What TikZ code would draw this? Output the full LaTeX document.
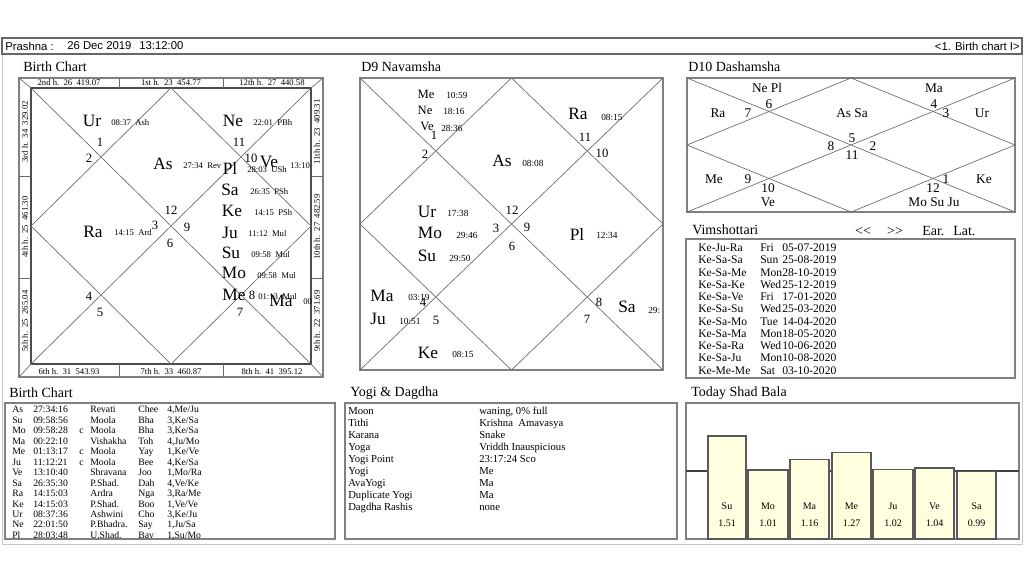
\documentclass[tikz,border=0pt]{standalone}
\usepackage{fontspec}
\setmainfont{Liberation Serif}
\newfontfamily\hdrfont{Liberation Sans}
\usetikzlibrary{positioning}

\definecolor{barfill}{HTML}{FFFFE0}
\definecolor{rimgray}{HTML}{808080}
\definecolor{linegray}{HTML}{6A6A6A}

\begin{document}
\begin{tikzpicture}[
    x=0.75pt, y=-0.75pt,
    panel/.style={draw=rimgray, line width=1.5pt},
    innerbox/.style={draw=black!70, line width=0.8pt},
    chartline/.style={draw=linegray, line width=0.5pt},
    hdr/.style={inner sep=0pt, font=\hdrfont\fontsize{8.5}{9}\selectfont},
    title/.style={anchor=west, inner sep=0pt, font=\fontsize{10.5}{12}\selectfont},
    bigpl/.style={inner sep=0pt, font=\fontsize{13}{13}\selectfont},
    midpl/.style={inner sep=0pt, font=\fontsize{9.5}{9.5}\selectfont},
    deg/.style={anchor=west, inner sep=0pt, font=\fontsize{6.5}{6.5}\selectfont},
    degnine/.style={anchor=west, inner sep=0pt, font=\fontsize{7}{7}\selectfont},
    house/.style={inner sep=0pt, font=\fontsize{9.5}{9.5}\selectfont},
    dasa/.style={inner sep=0pt, font=\fontsize{10}{10}\selectfont},
    strip/.style={inner sep=0pt, font=\fontsize{6.5}{6.5}\selectfont},
    tab/.style={anchor=north west, inner sep=0pt},
    bar/.style={draw=black!65, line width=1pt, fill=barfill},
    barlabel/.style={inner sep=0pt, align=center, font=\fontsize{7.5}{12.5}\selectfont}
]
    \fill[white] (0,0) rectangle (1024,576);
    \useasboundingbox (0,0) rectangle (1024,576);

    % Header
    \draw[draw=gray!45] (2,38) rectangle (1022,544);
    \draw[draw=black!60, line width=0.8pt] (2,38) rectangle (1022,54);
    \node[hdr, anchor=west] (prashna) at (5,46) {Prashna :};
    \node[hdr, anchor=west] (pdate) at (67,46) {26 Dec 2019};
    \node[hdr, anchor=west] (ptime) at (139,46) {13:12:00};
    \node[hdr, anchor=east] (pview) at (1020,46) {<1. Birth chart I>};

    % Birth chart
    \node[title] (bctitle) at (23,67) {Birth Chart};
    \draw[panel] (19,78) rectangle (323,377);
    \draw[innerbox] (31,88) rectangle (311,364);
    \draw[chartline] (19,78) -- (31,88) (323,78) -- (311,88) (323,377) -- (311,364) (19,377) -- (31,364);
    \draw[chartline] (119,78) -- (119,88) (223,78) -- (223,88) (119,364) -- (119,377) (223,364) -- (223,377);
    \draw[chartline] (19,176) -- (31,176) (19,278) -- (31,278) (311,176) -- (323,176) (311,278) -- (323,278);
    \draw[chartline] (31,88) -- (311,364) (311,88) -- (31,364);
    \draw[chartline] (171,88) -- (311,226) -- (171,364) -- (31,226) -- cycle;

    \node[strip] (bch2) at (69,83) {2nd h.\ \ 26\ \ 419.07};
    \node[strip] (bch1) at (171,83) {1st h.\ \ 23\ \ 454.77};
    \node[strip] (bch12) at (272,83) {12th h.\ \ 27\ \ 440.58};
    \node[strip] (bch6) at (69,372) {6th h.\ \ 31\ \ 543.93};
    \node[strip] (bch7) at (171,372) {7th h.\ \ 33\ \ 460.87};
    \node[strip] (bch8) at (272,372) {8th h.\ \ 41\ \ 395.12};
    \node[strip, rotate=90] (bch3) at (25,132) {3rd h.\ \ 34\ \ 329.02};
    \node[strip, rotate=90] (bch4) at (25,227) {4th h.\ \ 25\ \ 461.30};
    \node[strip, rotate=90] (bch5) at (25,321) {5th h.\ \ 25\ \ 265.04};
    \node[strip, rotate=90] (bch11) at (317,132) {11th h.\ \ 23\ \ 409.31};
    \node[strip, rotate=90] (bch10) at (317,227) {10th h.\ \ 27\ \ 482.59};
    \node[strip, rotate=90] (bch9) at (317,321) {9th h.\ \ 22\ \ 371.69};

    \node[bigpl] (bcur) at (92,121) {Ur};
    \node[deg] (bcurd) at (111,123) {08:37\ \ Ash};
    \node[bigpl] (bcne) at (233,121) {Ne};
    \node[deg] (bcned) at (253,123) {22:01\ \ PBh};
    \node[bigpl] (bcas) at (163,164) {As};
    \node[deg] (bcasd) at (183,166) {27:34\ \ Rev};
    \node[bigpl] (bcve) at (269,162) {Ve};
    \node[deg] (bcved) at (290,166) {13:10};
    \node[bigpl] (bcpl) at (230,168) {Pl};
    \node[deg] (bcpld) at (247,170) {28:03\ \ USh};
    \node[bigpl] (bcsa) at (230,190) {Sa};
    \node[deg] (bcsad) at (250,192) {26:35\ \ PSh};
    \node[bigpl] (bcke) at (232,211) {Ke};
    \node[deg] (bcked) at (254,213) {14:15\ \ PSh};
    \node[bigpl] (bcra) at (93,232) {Ra};
    \node[deg] (bcrad) at (114,233) {14:15\ \ Ard};
    \node[bigpl] (bcju) at (230,233) {Ju};
    \node[deg] (bcjud) at (248,234) {11:12\ \ Mul};
    \node[bigpl] (bcsu) at (231,253) {Su};
    \node[deg] (bcsud) at (251,255) {09:58\ \ Mul};
    \node[bigpl] (bcmo) at (234,273) {Mo};
    \node[deg] (bcmod) at (257,276) {09:58\ \ Mul};
    \node[bigpl] (bcme) at (234,295) {Me};
    \node[deg] (bcmed) at (258,297) {01:13\ \ Mul};
    \node[bigpl] (bcma) at (281,301) {Ma};
    \node[deg] (bcmad) at (303,302) {00};

    \node[house] (bc1) at (100,142) {1};
    \node[house] (bc2) at (89,158) {2};
    \node[house] (bc11) at (239,142) {11};
    \node[house] (bc10) at (251,158) {10};
    \node[house] (bc12) at (171,210) {12};
    \node[house] (bc3) at (155,225) {3};
    \node[house] (bc9) at (187,227) {9};
    \node[house] (bc6) at (170,243) {6};
    \node[house] (bc4) at (89,296) {4};
    \node[house] (bc5) at (100,312) {5};
    \node[house] (bc8) at (252,295) {8};
    \node[house] (bc7) at (240,312) {7};

    % D9 Navamsha
    \node[title] (nvtitle) at (361,67) {D9 Navamsha};
    \draw[panel] (360,78) rectangle (663,370);
    \draw[chartline] (360,78) -- (663,370) (663,78) -- (360,370);
    \draw[chartline] (511.5,78) -- (663,224) -- (511.5,370) -- (360,224) -- cycle;

    \node[midpl] (nvme) at (426,94) {Me};
    \node[degnine] (nvmed) at (446,95) {10:59};
    \node[midpl] (nvne) at (425,110) {Ne};
    \node[degnine] (nvned) at (443,111) {18:16};
    \node[midpl] (nvve) at (427,126) {Ve};
    \node[degnine] (nvved) at (441,128) {28:36};
    \node[bigpl] (nvra) at (578,114) {Ra};
    \node[degnine] (nvrad) at (601,117) {08:15};
    \node[bigpl] (nvas) at (502,161) {As};
    \node[degnine] (nvasd) at (522,163) {08:08};
    \node[bigpl] (nvur) at (427,212) {Ur};
    \node[degnine] (nvurd) at (447,213) {17:38};
    \node[bigpl] (nvmo) at (430,233) {Mo};
    \node[degnine] (nvmod) at (456,235) {29:46};
    \node[bigpl] (nvpl) at (577,234) {Pl};
    \node[degnine] (nvpld) at (596,235) {12:34};
    \node[bigpl] (nvsu) at (427,256) {Su};
    \node[degnine] (nvsud) at (449,258) {29:50};
    \node[bigpl] (nvma) at (382,296) {Ma};
    \node[degnine] (nvmad) at (408,297) {03:19};
    \node[bigpl] (nvju) at (378,319) {Ju};
    \node[degnine] (nvjud) at (399,321) {10:51};
    \node[bigpl] (nvsa) at (627,307) {Sa};
    \node[degnine] (nvsad) at (648,310) {29:};
    \node[bigpl] (nvke) at (428,353) {Ke};
    \node[degnine] (nvked) at (452,354) {08:15};

    \node[house] (nv1) at (434,135) {1};
    \node[house] (nv2) at (425,154) {2};
    \node[house] (nv11) at (585,137) {11};
    \node[house] (nv10) at (602,153) {10};
    \node[house] (nv12) at (512,210) {12};
    \node[house] (nv3) at (496,228) {3};
    \node[house] (nv9) at (527,227) {9};
    \node[house] (nv6) at (512,246) {6};
    \node[house] (nv4) at (423,302) {4};
    \node[house] (nv5) at (436,320) {5};
    \node[house] (nv8) at (599,302) {8};
    \node[house] (nv7) at (587,319) {7};

    % D10 Dashamsha
    \node[title] (dstitle) at (688,67) {D10 Dashamsha};
    \draw[panel] (687,78) rectangle (1015,212);
    \draw[chartline] (687,78) -- (1015,212) (1015,78) -- (687,212);
    \draw[chartline] (851,78) -- (1015,145) -- (851,212) -- (687,145) -- cycle;

    \node[dasa] (dsnepl) at (767,88) {Ne Pl};
    \node[dasa] (ds6) at (769,104) {6};
    \node[dasa] (dsra) at (718,113) {Ra};
    \node[dasa] (ds7) at (748,113) {7};
    \node[dasa] (dsassa) at (852,113) {As Sa};
    \node[dasa] (dsma) at (934,88) {Ma};
    \node[dasa] (ds4) at (934,104) {4};
    \node[dasa] (ds3) at (946,113) {3};
    \node[dasa] (dsur) at (982,113) {Ur};
    \node[dasa] (ds5) at (852,138) {5};
    \node[dasa] (ds8) at (831,146) {8};
    \node[dasa] (ds2) at (873,146) {2};
    \node[dasa] (ds11) at (852,155) {11};
    \node[dasa] (dsme) at (714,179) {Me};
    \node[dasa] (ds9) at (748,179) {9};
    \node[dasa] (ds10) at (768,188) {10};
    \node[dasa] (dsve) at (768,202) {Ve};
    \node[dasa] (ds1) at (946,179) {1};
    \node[dasa] (dske) at (984,179) {Ke};
    \node[dasa] (ds12) at (933,188) {12};
    \node[dasa] (dsmosuju) at (934,202) {Mo Su Ju};

    % Vimshottari
    \node[title] (vmtitle) at (692,230) {Vimshottari};
    \node[title, anchor=center] (vmprev) at (863,231) {<{}<};
    \node[title, anchor=center] (vmnext) at (895,231) {>{}>};
    \node[title] (vmear) at (922,231) {Ear.};
    \node[title] (vmlat) at (953,231) {Lat.};
    \draw[panel, line width=1pt] (686,239) rectangle (1015,378);
    \node[tab, font=\fontsize{8.7}{9.19}\selectfont] (vmtab) at (698,242.7) {%
      \begin{tabular}{@{}p{46.5pt}@{}p{16.5pt}@{}l@{}}
        Ke-Ju-Ra & Fri & 05-07-2019\\
        Ke-Sa-Sa & Sun & 25-08-2019\\
        Ke-Sa-Me & Mon & 28-10-2019\\
        Ke-Sa-Ke & Wed & 25-12-2019\\
        Ke-Sa-Ve & Fri & 17-01-2020\\
        Ke-Sa-Su & Wed & 25-03-2020\\
        Ke-Sa-Mo & Tue & 14-04-2020\\
        Ke-Sa-Ma & Mon & 18-05-2020\\
        Ke-Sa-Ra & Wed & 10-06-2020\\
        Ke-Sa-Ju & Mon & 10-08-2020\\
        Ke-Me-Me & Sat & 03-10-2020
      \end{tabular}};

    % Birth chart table
    \node[title] (bttitle) at (9,393) {Birth Chart};
    \draw[panel] (5,403) rectangle (335,539);
    \node[tab, font=\fontsize{7.3}{7.85}\selectfont] (bttab) at (12,405.2) {%
      \begin{tabular}{@{}p{15.75pt}@{}p{34.5pt}@{}p{8.25pt}@{}p{36pt}@{}p{21.75pt}@{}l@{}}
        As & 27:34:16 &   & Revati    & Chee & 4,Me/Ju\\
        Su & 09:58:56 &   & Moola     & Bha  & 3,Ke/Sa\\
        Mo & 09:58:28 & c & Moola     & Bha  & 3,Ke/Sa\\
        Ma & 00:22:10 &   & Vishakha  & Toh  & 4,Ju/Mo\\
        Me & 01:13:17 & c & Moola     & Yay  & 1,Ke/Ve\\
        Ju & 11:12:21 & c & Moola     & Bee  & 4,Ke/Sa\\
        Ve & 13:10:40 &   & Shravana  & Joo  & 1,Mo/Ra\\
        Sa & 26:35:30 &   & P.Shad.   & Dah  & 4,Ve/Ke\\
        Ra & 14:15:03 &   & Ardra     & Nga  & 3,Ra/Me\\
        Ke & 14:15:03 &   & P.Shad.   & Boo  & 1,Ve/Ve\\
        Ur & 08:37:36 &   & Ashwini   & Cho  & 3,Ke/Ju\\
        Ne & 22:01:50 &   & P.Bhadra. & Say  & 1,Ju/Sa\\
        Pl & 28:03:48 &   & U.Shad.   & Bav  & 1,Su/Mo
      \end{tabular}};

    % Yogi & Dagdha
    \node[title] (ygtitle) at (350,393) {Yogi \& Dagdha};
    \draw[panel] (345,403) rectangle (677,539);
    \node[tab, font=\fontsize{8}{9}\selectfont] (ygtab) at (348,405.8) {%
      \begin{tabular}{@{}p{98.25pt}@{}l@{}}
        Moon           & waning, 0\% full\\
        Tithi          & Krishna\ \ Amavasya\\
        Karana         & Snake\\
        Yoga           & Vriddh Inauspicious\\
        Yogi Point     & 23:17:24 Sco\\
        Yogi           & Me\\
        AvaYogi        & Ma\\
        Duplicate Yogi & Ma\\
        Dagdha Rashis  & none
      \end{tabular}};

    % Today Shad Bala
    \node[title] (sbtitle) at (691,393) {Today Shad Bala};
    \draw[panel] (686,403) rectangle (1019,539);
    \draw[draw=black!75, line width=1.2pt] (686,470.7) -- (1019,470.7);
    \draw[bar] (708,539) rectangle (746,435.9);
    \draw[bar] (748,539) rectangle (788,470.0);
    \draw[bar] (790,539) rectangle (829,459.8);
    \draw[bar] (832,539) rectangle (871,452.3);
    \draw[bar] (873,539) rectangle (913,469.3);
    \draw[bar] (915,539) rectangle (954,468.0);
    \draw[bar] (957,539) rectangle (996,471.4);
    \node[barlabel] (sbsu) at (727,515) {Su\\1.51};
    \node[barlabel] (sbmo) at (768,515) {Mo\\1.01};
    \node[barlabel] (sbma) at (809.5,515) {Ma\\1.16};
    \node[barlabel] (sbme) at (851.5,515) {Me\\1.27};
    \node[barlabel] (sbju) at (893,515) {Ju\\1.02};
    \node[barlabel] (sbve) at (934.5,515) {Ve\\1.04};
    \node[barlabel] (sbsa) at (976.5,515) {Sa\\0.99};

\end{tikzpicture}
\end{document}
